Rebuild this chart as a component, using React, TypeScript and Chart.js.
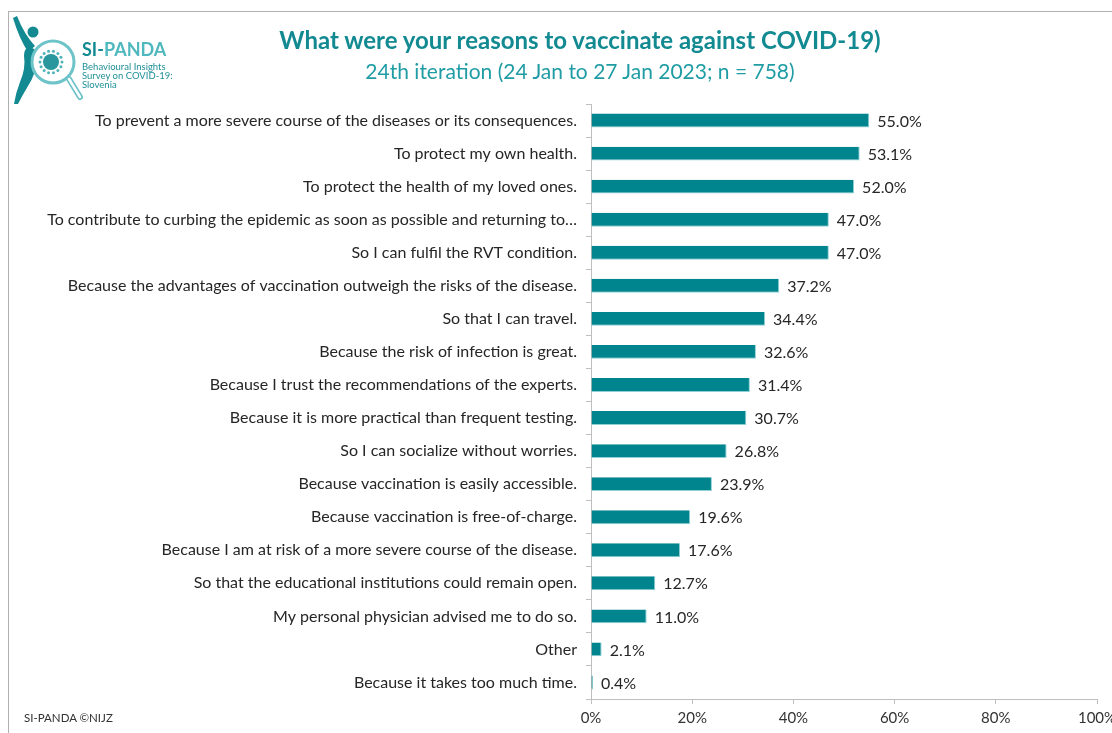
import React, { useEffect, useRef } from "react";
import { Chart, registerables } from "chart.js";

Chart.register(...registerables);

const categories: string[] = [
  "To prevent a more severe course of the diseases or its consequences.",
  "To protect my own health.",
  "To protect the health of my loved ones.",
  "To contribute to curbing the epidemic as soon as possible and returning to…",
  "So I can fulfil the RVT condition.",
  "Because the advantages of vaccination outweigh the risks of the disease.",
  "So that I can travel.",
  "Because the risk of infection is great.",
  "Because I trust the recommendations of the experts.",
  "Because it is more practical than frequent testing.",
  "So I can socialize without worries.",
  "Because vaccination is easily accessible.",
  "Because vaccination is free-of-charge.",
  "Because I am at risk of a more severe course of the disease.",
  "So that the educational institutions could remain open.",
  "My personal physician advised me to do so.",
  "Other",
  "Because it takes too much time.",
];

const values: number[] = [55.0, 53.1, 52.0, 47.0, 47.0, 37.2, 34.4, 32.6, 31.4, 30.7, 26.8, 23.9, 19.6, 17.6, 12.7, 11.0, 2.1, 0.4];

const xTicks: number[] = [0, 20, 40, 60, 80, 100];

const TITLE = "What were your reasons to vaccinate against COVID-19)";
const SUBTITLE = "24th iteration (24 Jan to 27 Jan 2023; n = 758)";
const FONT = "Lato, 'Open Sans', sans-serif";
const TEAL = "#00858f";

const valueLabels = {
  id: "valueLabels",
  afterDatasetsDraw(chart: any) {
    const ctx = chart.ctx;
    const meta = chart.getDatasetMeta(0);
    ctx.save();
    ctx.font = `16px ${FONT}`;
    ctx.fillStyle = "#262626";
    ctx.textAlign = "left";
    ctx.textBaseline = "middle";
    meta.data.forEach((bar: any, i: number) => {
      ctx.fillText(values[i].toFixed(1) + "%", bar.x + 8, bar.y + 1);
    });
    ctx.restore();
  },
};

function Logo() {
  return (
    <svg width="240" height="100" style={{ position: "absolute", left: 10, top: 12 }}>
      {/* figure */}
      <path d="M3 6 L7 4 Q14 22 25 34 L18 40 Q9 26 3 6 Z" fill="#138a92" />
      <circle cx="23" cy="20" r="5.5" fill="#138a92" />
      <path d="M17 36 Q26 34 28 44 Q26 62 18 74 Q12 84 8 92 L4 92 Q6 80 10 70 Q16 56 14 44 Q14 38 17 36 Z" fill="#138a92" />
      {/* lens */}
      <circle cx="43" cy="50" r="21" fill="white" stroke="#6cc3c8" strokeWidth="3" />
      <line x1="59" y1="67" x2="70" y2="85" stroke="#6cc3c8" strokeWidth="6" strokeLinecap="round" />
      <line x1="59" y1="67" x2="70" y2="85" stroke="white" strokeWidth="2.5" strokeLinecap="round" />
      {/* virus */}
      <circle cx="41" cy="50" r="8" fill="#2a969e" />
      {Array.from({ length: 14 }).map((_, k) => {
        const a = (k / 14) * Math.PI * 2;
        return <circle key={k} cx={41 + Math.cos(a) * 11} cy={50 + Math.sin(a) * 11} r="1.5" fill="#4fb3ba" />;
      })}
      <text x="72" y="44" fontFamily={FONT} fontWeight="bold" fontSize="18">
        <tspan fill="#138a92">SI-</tspan>
        <tspan fill="#4fb8be">PANDA</tspan>
      </text>
      <text x="72" y="58" fontFamily={FONT} fontSize="9.5" fill="#1f8f97">Behavioural Insights</text>
      <text x="72" y="67" fontFamily={FONT} fontSize="9.5" fill="#1f8f97">Survey on COVID-19:</text>
      <text x="72" y="76" fontFamily={FONT} fontSize="9.5" fill="#1f8f97">Slovenia</text>
    </svg>
  );
}

export default function App() {
  const ref = useRef<HTMLCanvasElement | null>(null);

  useEffect(() => {
    if (!ref.current) return;
    const chart = new Chart(ref.current, {
      type: "bar",
      data: {
        labels: categories,
        datasets: [
          {
            data: values,
            backgroundColor: TEAL,
            borderColor: "#8fd0d4",
            borderWidth: { top: 0, left: 0, right: 1, bottom: 1 },
            borderSkipped: "start",
            barPercentage: 0.42,
            categoryPercentage: 1,
          },
        ],
      },
      options: {
        indexAxis: "y",
        animation: false,
        responsive: false,
        maintainAspectRatio: false,
        layout: { padding: { left: 0, right: 15, top: 104, bottom: 0 } },
        plugins: { legend: { display: false }, tooltip: { enabled: false } },
        scales: {
          x: {
            min: 0,
            max: 100,
            afterBuildTicks: (scale: any) => {
              scale.ticks = xTicks.map((v) => ({ value: v }));
            },
            afterFit: (scale: any) => {
              scale.height = 34;
              scale.paddingRight = 0;
              scale.paddingLeft = 0;
            },
            grid: { drawOnChartArea: false, drawTicks: true, tickLength: 5, color: "#bfbfbf" },
            border: { color: "#bfbfbf", width: 1 },
            ticks: {
              padding: 5,
              color: "#333333",
              font: { family: FONT, size: 15 },
              callback: (v: any) => v + "%",
            },
          },
          y: {
            afterFit: (scale: any) => {
              scale.width = 591;
              scale.paddingTop = 0;
              scale.paddingBottom = 0;
            },
            grid: { drawOnChartArea: false, drawTicks: true, tickLength: 5, color: "#bfbfbf", offset: true },
            border: { color: "#bfbfbf", width: 1 },
            ticks: {
              padding: 9,
              color: "#262626",
              autoSkip: false,
              font: { family: FONT, size: 16 },
            },
          },
        },
      },
      plugins: [valueLabels],
    });
    return () => chart.destroy();
  }, []);

  return (
    <div style={{ position: "absolute", left: 0, top: 0, width: 1112, height: 733, background: "white", overflow: "hidden" }}>
      <div style={{ position: "absolute", left: 8, top: 11, width: 1200, height: 800, borderTop: "1px solid #b0b0b0", borderLeft: "1px solid #b0b0b0" }} />
      <canvas ref={ref} width={1112} height={733} style={{ position: "absolute", left: 0, top: 0 }} />
      <Logo />
      <div style={{ position: "absolute", left: 0, width: 1160, top: 25, textAlign: "center", fontFamily: FONT, fontWeight: "bold", fontSize: 24, color: "#138a92" }}>
        {TITLE}
      </div>
      <div style={{ position: "absolute", left: 0, width: 1160, top: 58, textAlign: "center", fontFamily: FONT, fontSize: 21, color: "#1f9ca4" }}>
        {SUBTITLE}
      </div>
      <div style={{ position: "absolute", left: 24, top: 711, fontFamily: FONT, fontSize: 11.5, color: "#333" }}>SI-PANDA ©NIJZ</div>
    </div>
  );
}
